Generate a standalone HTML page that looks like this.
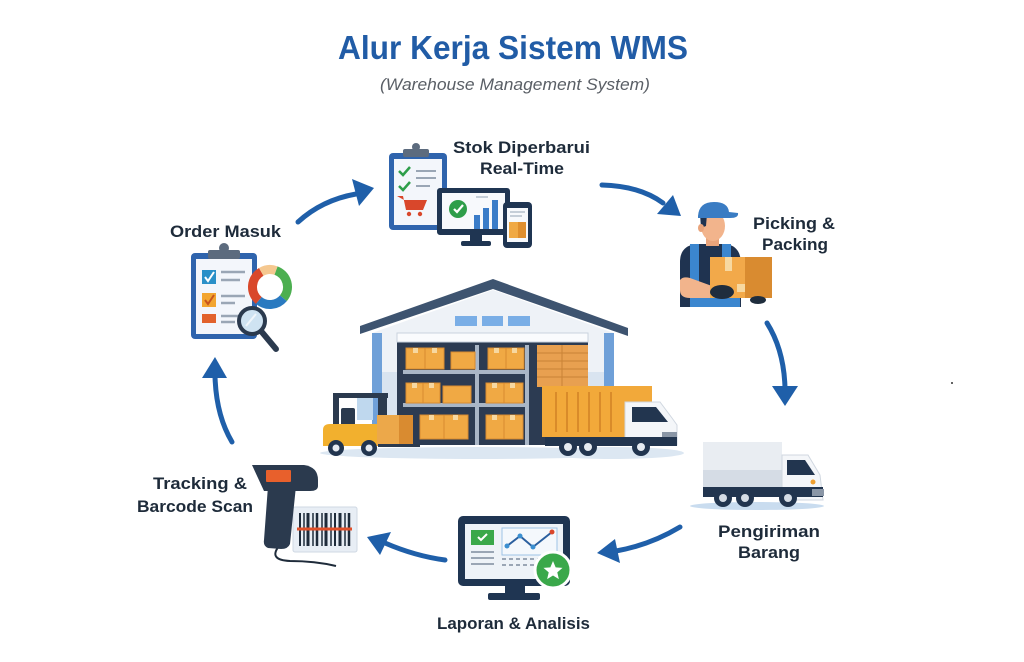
<!DOCTYPE html>
<html><head><meta charset="utf-8"><style>
html,body{margin:0;padding:0;background:#fff;}
svg{display:block;}
text{font-family:"Liberation Sans",sans-serif;}
.lb{font-size:17px;font-weight:bold;fill:#1e2b3a;}
</style></head><body>
<svg width="1024" height="662" viewBox="0 0 1024 662" xmlns="http://www.w3.org/2000/svg">
<rect width="1024" height="662" fill="#fff"/>
<!-- Title -->
<text x="338" y="59" font-size="33" font-weight="bold" fill="#215ca6" textLength="350" lengthAdjust="spacingAndGlyphs">Alur Kerja Sistem WMS</text>
<text x="380" y="90" font-size="17" font-style="italic" fill="#5a5f66" textLength="270" lengthAdjust="spacingAndGlyphs">(Warehouse Management System)</text>

<!-- Labels -->
<text class="lb" x="170" y="237" textLength="111" lengthAdjust="spacingAndGlyphs">Order Masuk</text>
<text class="lb" x="453" y="153" textLength="137" lengthAdjust="spacingAndGlyphs">Stok Diperbarui</text>
<text class="lb" x="480" y="174" textLength="84" lengthAdjust="spacingAndGlyphs">Real-Time</text>
<text class="lb" x="753" y="229" textLength="82" lengthAdjust="spacingAndGlyphs">Picking &amp;</text>
<text class="lb" x="762" y="250" textLength="66" lengthAdjust="spacingAndGlyphs">Packing</text>
<text class="lb" x="718" y="537" textLength="102" lengthAdjust="spacingAndGlyphs">Pengiriman</text>
<text class="lb" x="738" y="558" textLength="62" lengthAdjust="spacingAndGlyphs">Barang</text>
<text class="lb" x="437" y="629" textLength="153" lengthAdjust="spacingAndGlyphs">Laporan &amp; Analisis</text>
<text class="lb" x="153" y="489" textLength="94" lengthAdjust="spacingAndGlyphs">Tracking &amp;</text>
<text class="lb" x="137" y="512" textLength="116" lengthAdjust="spacingAndGlyphs">Barcode Scan</text>

<!-- Arrows -->
<g fill="none" stroke="#1f5fa9" stroke-width="5" stroke-linecap="round">
<path d="M298,222 Q322,200 356,194"/>
<path d="M602,185 Q640,186 663,203"/>
<path d="M767,323 Q784,350 785,388"/>
<path d="M680,527 Q650,545 616,551"/>
<path d="M445,560 Q415,556 385,543"/>
<path d="M232,442 Q216,415 215,376"/>
</g>
<g fill="#1f5fa9">
<polygon points="374,188 352,179 359,206"/>
<polygon points="681,216 657,214 673,195"/>
<polygon points="785,406 772,386 798,386"/>
<polygon points="597,553 615,539 620,563"/>
<polygon points="367,537 391,532 380,555"/>
<polygon points="215,357 202,378 227,378"/>
</g>

<!-- Order Masuk icon -->
<rect x="191" y="253" width="66" height="86" rx="4" fill="#2f64ad"/>
<rect x="196" y="259" width="56" height="75" fill="#f3f6fb"/>
<circle cx="224" cy="248" r="5" fill="#5c6b7e"/>
<rect x="208" y="250" width="32" height="9" rx="2" fill="#5c6b7e"/>
<rect x="202" y="270" width="14" height="14" fill="#2a90c8"/>
<polyline points="205,277 208,281 214,272" fill="none" stroke="#fff" stroke-width="2"/>
<rect x="202" y="293" width="14" height="14" fill="#f2a530"/>
<polyline points="205,300 208,304 214,295" fill="none" stroke="#c8551e" stroke-width="2"/>
<rect x="202" y="314" width="14" height="9" fill="#e2622c"/>
<g stroke="#9aa6b5" stroke-width="2.5">
<line x1="221" y1="272" x2="245" y2="272"/><line x1="221" y1="280" x2="240" y2="280"/>
<line x1="221" y1="296" x2="245" y2="296"/><line x1="221" y1="303" x2="235" y2="303"/>
<line x1="221" y1="316" x2="240" y2="316"/><line x1="221" y1="322" x2="235" y2="322"/>
</g>
<g fill="none" stroke-width="9">
<path d="M275.99,270.56 A17.5,17.5 0 0 1 283.41,298.25" stroke="#4caf50"/>
<path d="M283.41,298.25 A17.5,17.5 0 0 1 258.75,300.41" stroke="#2a7ac0"/>
<path d="M258.75,300.41 A17.5,17.5 0 0 1 261.25,271.84" stroke="#d9482b"/>
<path d="M261.25,271.84 A17.5,17.5 0 0 1 275.99,270.56" stroke="#f5c890"/>
</g>
<line x1="261" y1="331" x2="276" y2="349" stroke="#2b3a4e" stroke-width="6" stroke-linecap="round"/>
<circle cx="252" cy="321" r="13" fill="#cfe3f2" stroke="#2b3a4e" stroke-width="4"/>
<line x1="246" y1="326" x2="256" y2="314" stroke="#fff" stroke-width="2" opacity=".7"/>

<!-- Stok icon -->
<rect x="389" y="153" width="58" height="77" rx="4" fill="#2f64ad"/>
<rect x="394" y="159" width="48" height="66" fill="#f3f6fb"/>
<circle cx="416" cy="147" r="4" fill="#5c6b7e"/>
<rect x="403" y="149" width="26" height="8" rx="2" fill="#5c6b7e"/>
<g fill="none" stroke="#2e9e4a" stroke-width="2.5">
<polyline points="399,171 403,175 410,167"/><polyline points="399,186 403,190 410,182"/>
</g>
<g stroke="#9aa6b5" stroke-width="2"><line x1="416" y1="171" x2="436" y2="171"/><line x1="416" y1="178" x2="436" y2="178"/><line x1="416" y1="186" x2="430" y2="186"/></g>
<path d="M397,196 L403,196 L406,210 L423,210 L427,200 L404,200 Z" fill="#d9472b"/>
<circle cx="409" cy="214" r="2.2" fill="#d9472b"/><circle cx="420" cy="214" r="2.2" fill="#d9472b"/>
<rect x="437" y="188" width="73" height="47" rx="3" fill="#1f3552"/>
<rect x="442" y="193" width="63" height="36" fill="#f7f9fc"/>
<rect x="470" y="234" width="12" height="8" fill="#1f3552"/>
<rect x="461" y="241" width="30" height="5" rx="2" fill="#1f3552"/>
<circle cx="458" cy="209" r="9" fill="#2e9e4a"/>
<polyline points="454,209 457,212 463,205" fill="none" stroke="#fff" stroke-width="2.2"/>
<g fill="#3a7cc8"><rect x="474" y="215" width="6" height="14"/><rect x="483" y="208" width="6" height="21"/><rect x="492" y="200" width="6" height="29"/></g>
<g stroke="#b4bfcc" stroke-width="1.5"><line x1="476" y1="197" x2="488" y2="197"/></g>
<rect x="503" y="202" width="29" height="46" rx="4" fill="#1f3552"/>
<rect x="507" y="208" width="21" height="34" fill="#f7f9fc"/>
<rect x="509" y="222" width="17" height="16" fill="#f0a944"/>
<rect x="518" y="222" width="8" height="16" fill="#e08f2e"/>
<g stroke="#b4bfcc" stroke-width="1.5"><line x1="510" y1="212" x2="525" y2="212"/><line x1="510" y1="216" x2="522" y2="216"/></g>

<!-- Worker -->
<path d="M680,307 L680,262 Q680,246 696,244 L726,244 Q740,246 741,262 L741,307 Z" fill="#1f3350"/>
<rect x="690" y="244" width="9" height="55" fill="#3b86cf"/>
<rect x="722" y="244" width="9" height="20" fill="#3b86cf"/>
<rect x="690" y="293" width="50" height="14" fill="#3b86cf"/>
<rect x="706" y="236" width="13" height="10" fill="#e9a47b"/>
<ellipse cx="713" cy="226" rx="12" ry="15" fill="#f2b48c"/>
<path d="M700,214 L707,214 L706,226 L701,228 Z" fill="#1f3350"/>
<ellipse cx="701" cy="228" rx="3" ry="4" fill="#e9a47b"/>
<path d="M698,216 Q699,202 714,202 Q728,202 729,212 L738,213 Q739,218 730,218 L698,218 Z" fill="#3a7cc3"/>
<path d="M680,280 Q683,276 690,278 L712,286 L712,298 L690,298 Q680,298 680,290 Z" fill="#f2b48c"/>
<rect x="710" y="257" width="62" height="41" fill="#f2a94a"/>
<rect x="745" y="257" width="27" height="41" fill="#d98b30"/>
<rect x="725" y="257" width="7" height="14" fill="#f7d8a0"/>
<rect x="737" y="284" width="8" height="8" fill="#f7d8a0"/>
<ellipse cx="722" cy="292" rx="12" ry="7" fill="#1f2d3d"/>
<ellipse cx="758" cy="300" rx="8" ry="4" fill="#1f2d3d"/>

<!-- Delivery truck -->
<ellipse cx="757" cy="506" rx="67" ry="4" fill="#c9dcef"/>
<rect x="703" y="442" width="79" height="45" fill="#e9edf2"/>
<rect x="703" y="470" width="79" height="17" fill="#d5dce5"/>
<path d="M782,455 L808,455 L820,475 L823,500 L782,500 Z" fill="#f4f6f9" stroke="#d0d7e0"/>
<polygon points="787,460 805,460 815,475 787,475" fill="#22354f"/>
<circle cx="813" cy="482" r="2.5" fill="#f0a030"/>
<rect x="703" y="487" width="120" height="10" fill="#22354f"/>
<rect x="812" y="489" width="12" height="7" fill="#8a96a6"/>
<g fill="#22354f"><circle cx="723" cy="498" r="9"/><circle cx="745" cy="498" r="9"/><circle cx="788" cy="498" r="9"/></g>
<g fill="#d5dce5"><circle cx="723" cy="498" r="4"/><circle cx="745" cy="498" r="4"/><circle cx="788" cy="498" r="4"/></g>

<!-- Laporan monitor -->
<rect x="458" y="516" width="112" height="70" rx="5" fill="#1f3552"/>
<rect x="465" y="524" width="98" height="55" fill="#eef3f8"/>
<rect x="505" y="585" width="20" height="9" fill="#1f3552"/>
<rect x="488" y="593" width="52" height="7" rx="2" fill="#1f3552"/>
<rect x="471" y="530" width="23" height="15" fill="#3aa84a"/>
<polyline points="478,537 481,540 487,534" fill="none" stroke="#fff" stroke-width="2"/>
<g stroke="#9aa6b5" stroke-width="2"><line x1="471" y1="552" x2="494" y2="552"/><line x1="471" y1="558" x2="494" y2="558"/><line x1="471" y1="564" x2="494" y2="564"/></g>
<g stroke="#9aa6b5" stroke-width="2" stroke-dasharray="4,3"><line x1="502" y1="559" x2="540" y2="559"/><line x1="502" y1="565" x2="540" y2="565"/></g>
<rect x="502" y="528" width="55" height="27" fill="#f4f8fc" stroke="#9ec3e6"/>
<polyline points="507,546 520,536 533,547 552,532" fill="none" stroke="#2b5f9e" stroke-width="2"/>
<g fill="#3b8fd0"><circle cx="507" cy="546" r="2.5"/><circle cx="520" cy="536" r="2.5"/><circle cx="533" cy="547" r="2.5"/></g>
<circle cx="552" cy="532" r="2.5" fill="#d9472b"/>
<circle cx="553" cy="570" r="18" fill="#3aa84a" stroke="#fff" stroke-width="3"/>
<polygon points="553,561 555.65,567.36 562.51,567.91 557.28,572.39 558.88,579.09 553,575.5 547.12,579.09 548.72,572.39 543.49,567.91 550.35,567.36" fill="#fff"/>

<!-- Scanner -->
<rect x="293" y="507" width="64" height="45" rx="2" fill="#e8eef5" stroke="#cfd8e3"/>
<g stroke="#1e2b3a">
<line x1="300" y1="513" x2="300" y2="546" stroke-width="2"/><line x1="304" y1="513" x2="304" y2="546" stroke-width="1.5"/>
<line x1="308" y1="513" x2="308" y2="546" stroke-width="3"/><line x1="313" y1="513" x2="313" y2="546" stroke-width="1.5"/>
<line x1="317" y1="513" x2="317" y2="546" stroke-width="2.5"/><line x1="322" y1="513" x2="322" y2="546" stroke-width="1.5"/>
<line x1="326" y1="513" x2="326" y2="546" stroke-width="3"/><line x1="331" y1="513" x2="331" y2="546" stroke-width="1.5"/>
<line x1="335" y1="513" x2="335" y2="546" stroke-width="2"/><line x1="340" y1="513" x2="340" y2="546" stroke-width="3"/>
<line x1="345" y1="513" x2="345" y2="546" stroke-width="1.5"/><line x1="349" y1="513" x2="349" y2="546" stroke-width="2.5"/>
</g>
<line x1="297" y1="529" x2="352" y2="529" stroke="#e0502a" stroke-width="3"/>
<path d="M279,546 Q268,560 290,561 Q315,561 336,566" fill="none" stroke="#1e2b3a" stroke-width="2"/>
<path d="M268,486 L296,486 L290,544 Q288,549 281,549 L268,548 Q263,546 264,540 Z" fill="#2b3a4e"/>
<path d="M252,465 L304,465 Q318,467 318,480 L318,486 Q318,491 310,491 L264,491 Z" fill="#2b3a4e"/>
<rect x="266" y="470" width="25" height="12" rx="1" fill="#e8602c"/>

<!-- Warehouse -->
<ellipse cx="480" cy="453" rx="160" ry="6" fill="#dce7f2"/>
<ellipse cx="612" cy="453" rx="72" ry="6" fill="#dce7f2"/>
<polygon points="372,333 493,290 614,333 614,445 372,445" fill="#eef2f7"/>
<rect x="372" y="372" width="242" height="73" fill="#d9e4f0"/>
<rect x="372" y="333" width="10" height="112" fill="#6fa0d8"/>
<rect x="604" y="333" width="10" height="112" fill="#6fa0d8"/>
<polygon points="360,326 493,279 628,328 628,336 493,289 360,334" fill="#3e5470"/>
<g fill="#7aaee6"><rect x="455" y="316" width="22" height="10"/><rect x="482" y="316" width="21" height="10"/><rect x="508" y="316" width="22" height="10"/></g>
<rect x="397" y="333" width="191" height="112" fill="#2c3b52"/>
<rect x="397" y="333" width="191" height="9" fill="#fafbfd" stroke="#c9d3de"/>
<g fill="#a9b6c6"><rect x="403" y="370" width="126" height="4"/><rect x="403" y="403" width="126" height="4"/>
<rect x="475" y="345" width="4" height="100"/><rect x="525" y="345" width="4" height="100"/></g>
<g fill="#f0a944" stroke="#d98b30" stroke-width="1">
<rect x="406" y="348" width="19" height="21"/><rect x="425" y="348" width="19" height="21"/>
<rect x="451" y="352" width="24" height="17"/>
<rect x="488" y="348" width="18" height="21"/><rect x="506" y="348" width="18" height="21"/>
<rect x="406" y="383" width="17" height="20"/><rect x="423" y="383" width="17" height="20"/>
<rect x="443" y="386" width="28" height="17"/>
<rect x="486" y="383" width="18" height="20"/><rect x="504" y="383" width="19" height="20"/>
<rect x="420" y="415" width="24" height="24"/><rect x="444" y="415" width="24" height="24"/>
<rect x="486" y="415" width="18" height="24"/><rect x="504" y="415" width="19" height="24"/>
</g>
<g fill="#f7d8a0"><rect x="413" y="348" width="5" height="5"/><rect x="432" y="348" width="5" height="5"/><rect x="494" y="348" width="5" height="5"/><rect x="512" y="348" width="5" height="5"/><rect x="412" y="383" width="5" height="5"/><rect x="429" y="383" width="5" height="5"/><rect x="492" y="383" width="5" height="5"/><rect x="510" y="383" width="5" height="5"/><rect x="429" y="415" width="5" height="5"/><rect x="453" y="415" width="5" height="5"/><rect x="492" y="415" width="5" height="5"/><rect x="510" y="415" width="5" height="5"/></g>
<rect x="537" y="345" width="51" height="42" fill="#e8a050"/>
<g stroke="#c98236" stroke-width="1"><line x1="537" y1="353" x2="588" y2="353"/><line x1="537" y1="361" x2="588" y2="361"/><line x1="537" y1="369" x2="588" y2="369"/><line x1="537" y1="377" x2="588" y2="377"/><line x1="562" y1="345" x2="562" y2="387"/></g>

<!-- Warehouse truck -->
<rect x="542" y="386" width="110" height="51" fill="#f2a93a"/>
<g stroke="#d98b2a" stroke-width="2"><line x1="556" y1="392" x2="556" y2="432"/><line x1="567" y1="392" x2="567" y2="432"/><line x1="578" y1="392" x2="578" y2="432"/><line x1="589" y1="392" x2="589" y2="432"/><line x1="600" y1="392" x2="600" y2="432"/><line x1="611" y1="392" x2="611" y2="432"/></g>
<path d="M625,402 L660,402 L672,418 L677,425 L677,445 L625,445 Z" fill="#f4f6f9" stroke="#d0d7e0"/>
<polygon points="632,407 656,407 668,422 632,422" fill="#22354f"/>
<rect x="662" y="432" width="15" height="7" fill="#8a96a6"/>
<rect x="545" y="437" width="132" height="9" fill="#22354f"/>
<g fill="#22354f"><circle cx="568" cy="447" r="9"/><circle cx="588" cy="447" r="9"/><circle cx="641" cy="447" r="9"/></g>
<g fill="#e6ebf1"><circle cx="568" cy="447" r="4"/><circle cx="588" cy="447" r="4"/><circle cx="641" cy="447" r="4"/></g>

<!-- Forklift -->
<rect x="333" y="393" width="55" height="5" fill="#2b3a4e"/>
<rect x="333" y="393" width="6" height="35" fill="#2b3a4e"/>
<rect x="357" y="398" width="16" height="22" fill="#bfd8ee"/>
<rect x="341" y="408" width="14" height="18" rx="2" fill="#2b3a4e"/>
<rect x="378" y="393" width="9" height="53" fill="#2b3a4e"/>
<path d="M323,430 Q323,424 330,424 L378,424 L378,446 L323,446 Z" fill="#f2b02e"/>
<rect x="377" y="415" width="36" height="30" fill="#eca84a"/>
<rect x="399" y="415" width="14" height="30" fill="#d98b30"/>
<rect x="378" y="444" width="42" height="3" fill="#2b3a4e"/>
<g fill="#22354f"><circle cx="336" cy="448" r="8"/><circle cx="369" cy="448" r="8"/></g>
<g fill="#e6ebf1"><circle cx="336" cy="448" r="3.5"/><circle cx="369" cy="448" r="3.5"/></g>

<circle cx="952" cy="383" r="1" fill="#333"/>
</svg>
</body></html>
